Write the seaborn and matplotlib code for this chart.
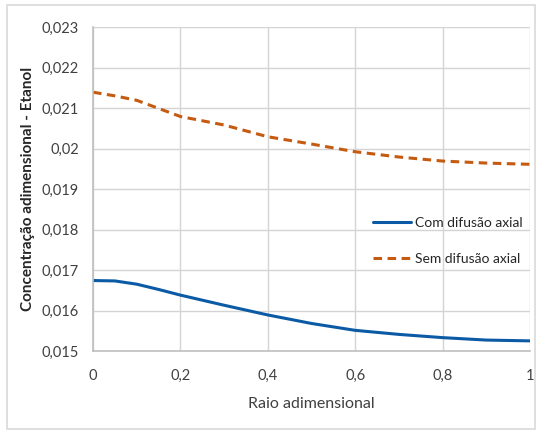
import seaborn as sns
import numpy as np
import pandas as pd
import matplotlib.pyplot as plt
from matplotlib.patches import Rectangle
from matplotlib.ticker import FuncFormatter

raio = [0.0, 0.05, 0.1, 0.15, 0.2, 0.3, 0.4, 0.5, 0.6, 0.7, 0.8, 0.9, 1.0]
com_difusao = [0.01674, 0.01673, 0.01665, 0.01652, 0.01638, 0.01613, 0.01589,
               0.01568, 0.01551, 0.01541, 0.01533, 0.01527, 0.01525]
sem_difusao = [0.02139, 0.02130, 0.02119, 0.02099, 0.02079, 0.02058, 0.02029,
               0.02011, 0.01992, 0.01979, 0.01969, 0.01964, 0.01961]
series_names = ['Com difusão axial', 'Sem difusão axial']
y_ticks = [0.015, 0.016, 0.017, 0.018, 0.019, 0.02, 0.021, 0.022, 0.023]
x_ticks = [0, 0.2, 0.4, 0.6, 0.8, 1]

df = pd.DataFrame({
    'raio': raio * 2,
    'conc': com_difusao + sem_difusao,
    'serie': [series_names[0]] * len(raio) + [series_names[1]] * len(raio),
})

sns.set_style('white')
plt.rcParams['font.family'] = ['Lato', 'DejaVu Sans']

fig = plt.figure(figsize=(5.37, 4.32), dpi=100)
fig.patches.append(Rectangle((7 / 537, 3 / 432), 528 / 537, 424 / 432, transform=fig.transFigure,
                             fill=False, edgecolor='#d9d9d9', linewidth=1.2))
ax = fig.add_axes([93 / 537, 1 - 351 / 432, 437 / 537, 324 / 432])

sns.lineplot(data=df, x='raio', y='conc', hue='serie', style='serie',
             palette=['#0b5aa5', '#c55a11'], dashes=[(None, None), (2.8, 1.8)],
             linewidth=2.2, ax=ax)

ax.set_xlim(0, 1)
ax.set_ylim(0.015, 0.023)
ax.set_xticks(x_ticks)
ax.set_yticks(y_ticks)
fmt = FuncFormatter(lambda v, p: ('%g' % round(v, 4)).replace('.', ','))
ax.xaxis.set_major_formatter(fmt)
ax.yaxis.set_major_formatter(fmt)
ax.grid(True, color='#d4d4d4', linewidth=1.0)
ax.set_axisbelow(True)
for s in ['top', 'right']:
    ax.spines[s].set_visible(False)
for s in ['left', 'bottom']:
    ax.spines[s].set_color('#bfbfbf')
    ax.spines[s].set_linewidth(1.2)
ax.tick_params(axis='both', length=0, labelsize=10.5, colors='#404040', pad=10)
ax.tick_params(axis='x', pad=13)

ax.set_xlabel('Raio adimensional', fontsize=11.5, color='#404040', labelpad=10)
ax.set_ylabel('Concentração adimensional - Etanol', fontsize=11, color='#262626',
              fontweight='bold', labelpad=5)

leg = ax.legend(loc='center left', bbox_to_anchor=(0.641, 0.34), frameon=False,
                fontsize=10, labelspacing=1.75, handlelength=2.7, handletextpad=0.35,
                borderpad=0, borderaxespad=0)
for t in leg.get_texts():
    t.set_color('#262626')

fig.savefig('out.png', dpi=100)
